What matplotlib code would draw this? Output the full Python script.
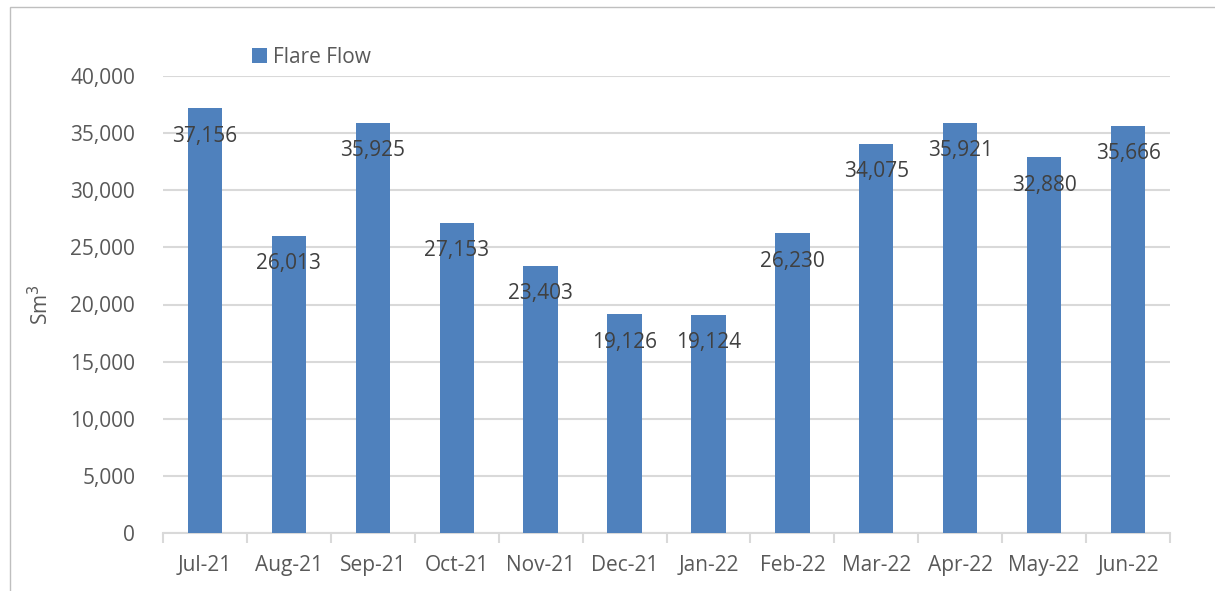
import matplotlib
matplotlib.use("Agg")
import matplotlib.pyplot as plt
from matplotlib.patches import Rectangle

months = ["Jul-21", "Aug-21", "Sep-21", "Oct-21", "Nov-21", "Dec-21",
          "Jan-22", "Feb-22", "Mar-22", "Apr-22", "May-22", "Jun-22"]
flare_flow = [37156, 26013, 35925, 27153, 23403, 19126,
              19124, 26230, 34075, 35921, 32880, 35666]

plt.rcParams['font.family'] = ['Open Sans', 'DejaVu Sans']

W, H = 1215, 591
fig = plt.figure(figsize=(W / 100, H / 100), dpi=100)
ax = fig.add_axes([163 / W, 1 - 533 / H, (1170 - 163) / W, (533 - 76) / H])

x = list(range(len(months)))
bars = ax.bar(x, flare_flow, width=0.41, color="#4F81BD", zorder=3, label="Flare Flow")

for xi, v in zip(x, flare_flow):
    ax.annotate(f"{v:,}", (xi, v), xytext=(0, -20), textcoords="offset points",
                ha="center", va="center", fontsize=15, color="#404040", zorder=4)

ax.set_xlim(-0.5, len(months) - 0.5)
ax.set_ylim(0, 40000)
ax.set_yticks(range(0, 40001, 5000))
ax.set_yticklabels([f"{t:,}" for t in range(0, 40001, 5000)])
ax.yaxis.grid(True, color="#D9D9D9", linewidth=1.5, zorder=0)
ax.set_axisbelow(True)

for s in ["top", "right", "left"]:
    ax.spines[s].set_visible(False)
ax.spines["bottom"].set_color("#D9D9D9")
ax.spines["bottom"].set_linewidth(1.5)

ax.set_xticks(x)
ax.set_xticklabels(months)
ax.tick_params(axis="x", length=0, labelsize=15, labelcolor="#595959", pad=16)
ax.tick_params(axis="y", length=0, labelsize=15, labelcolor="#595959", pad=20)
ax.set_xticks([i - 0.5 for i in range(len(months) + 1)], minor=True)
ax.tick_params(axis="x", which="minor", length=7, width=1.5, color="#D9D9D9")

ax.set_ylabel("Sm$^3$", fontsize=15, color="#595959", labelpad=12)

leg = ax.legend(loc="upper left", bbox_to_anchor=(0.07, 1.105), frameon=False,
                fontsize=15, handlelength=0.7, handleheight=0.7, handletextpad=0.3)
for t in leg.get_texts():
    t.set_color("#595959")

fig.patches.append(Rectangle((10 / W, -0.1), 1.2, 1 - 7 / H + 0.1, transform=fig.transFigure,
                             fill=False, edgecolor="#BFBFBF", linewidth=1))

fig.savefig("out.png", dpi=100)
